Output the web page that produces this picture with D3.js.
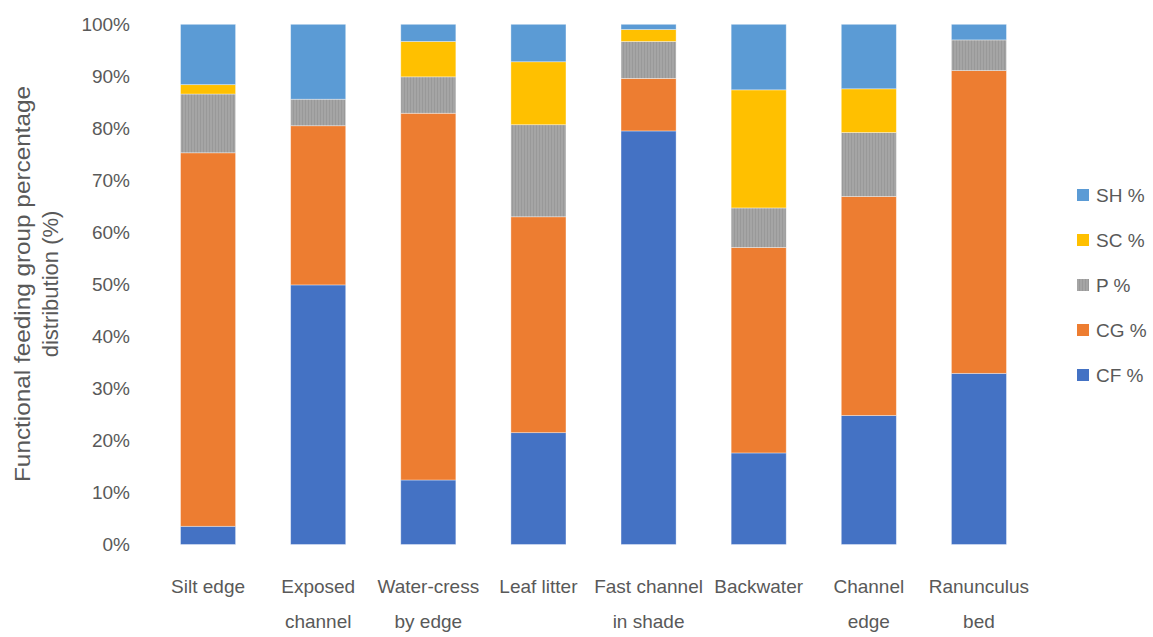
<!DOCTYPE html>
<html>
<head>
<meta charset="utf-8">
<script src="https://cdn.jsdelivr.net/npm/d3@7"></script>
<style>
  html, body { margin: 0; padding: 0; background: #fff; }
  svg { display: block; font-family: "Liberation Sans", Arial, sans-serif; }
</style>
</head>
<body>
<svg id="chart" width="1153" height="637"></svg>
<script>
// Habitat categories along the x axis (label lines)
const categories = [
  ["Silt edge"],
  ["Exposed", "channel"],
  ["Water-cress", "by edge"],
  ["Leaf litter"],
  ["Fast channel", "in shade"],
  ["Backwater"],
  ["Channel", "edge"],
  ["Ranunculus", "bed"]
];

// Functional feeding group shares (%) per habitat
const cf = [3.5, 49.9, 12.4, 21.5, 79.5, 17.6, 24.8, 32.9];
const cg = [71.8, 30.6, 70.5, 41.5, 10.1, 39.5, 42.1, 58.2];
const p  = [11.3, 5.1, 7.0, 17.7, 7.1, 7.6, 12.3, 5.9];
const sc = [1.8, 0.0, 6.8, 12.1, 2.3, 22.7, 8.4, 0.0];
const sh = [11.6, 14.4, 3.3, 7.2, 1.0, 12.6, 12.4, 3.0];

const seriesNames = ["CF %", "CG %", "P %", "SC %", "SH %"];
const yTicks = [0, 10, 20, 30, 40, 50, 60, 70, 80, 90, 100];

const colors = {
  "CF %": "#4472C4",
  "CG %": "#ED7D31",
  "P %": "url(#pHatch)",
  "SC %": "#FFC000",
  "SH %": "#5B9BD5"
};

const rows = categories.map((c, i) => ({
  key: c.join(" "),
  lines: c,
  "CF %": cf[i], "CG %": cg[i], "P %": p[i], "SC %": sc[i], "SH %": sh[i]
}));

const svg = d3.select("#chart");

// Fine texture for the predator segments
const defs = svg.append("defs");
const pat = defs.append("pattern")
  .attr("id", "pHatch").attr("patternUnits", "userSpaceOnUse")
  .attr("width", 3).attr("height", 3);
pat.append("rect").attr("width", 3).attr("height", 3).attr("fill", "#a5a5a5");
pat.append("rect").attr("x", 2).attr("width", 1).attr("height", 3).attr("fill", "#999999");

const x = d3.scaleBand()
  .domain(rows.map(d => d.key))
  .range([153, 1034])
  .paddingInner(0.5)
  .paddingOuter(0.25);

const y = d3.scaleLinear().domain([0, 100]).range([544.5, 24.3]);

const stacked = d3.stack().keys(seriesNames)(rows);

svg.append("g")
  .selectAll("g")
  .data(stacked)
  .join("g")
  .attr("fill", s => colors[s.key])
  .selectAll("rect")
  .data(s => s.map(v => ({ v, key: v.data.key })))
  .join("rect")
  .attr("x", d => x(d.key))
  .attr("width", x.bandwidth())
  .attr("y", d => y(d.v[1]))
  .attr("height", d => Math.max(0, y(d.v[0]) - y(d.v[1])))
  .attr("stroke", "rgba(255,255,255,0.45)")
  .attr("stroke-width", 0.8);

// Y axis: tick labels only
const yAxis = d3.axisLeft(y).tickValues(yTicks).tickFormat(d => d + "%").tickSize(0).tickPadding(0);
const yg = svg.append("g").attr("transform", "translate(130,0)").call(yAxis);
yg.select(".domain").remove();
yg.selectAll("text")
  .attr("fill", "#595959")
  .style("font-size", "19px")
  .style("font-family", "'Liberation Sans', Arial, sans-serif");

// X axis: wrapped category labels
const xAxis = d3.axisBottom(x).tickSize(0).tickFormat("");
const xg = svg.append("g").attr("transform", "translate(0,545)").call(xAxis);
xg.select(".domain").remove();
xg.selectAll(".tick").each(function(k) {
  const r = rows.find(d => d.key === k);
  const t = d3.select(this).append("text")
    .attr("fill", "#595959")
    .attr("text-anchor", "middle")
    .style("font-size", "19px")
    .style("font-family", "'Liberation Sans', Arial, sans-serif");
  r.lines.forEach((ln, i) => {
    t.append("tspan").attr("x", 0).attr("y", 48 + i * 35).text(ln);
  });
});

// Y axis title (two lines)
const title = svg.append("text")
  .attr("transform", "translate(0,284) rotate(-90)")
  .attr("text-anchor", "middle")
  .attr("fill", "#595959")
  .style("font-size", "22px");
title.append("tspan").attr("x", 0).attr("y", 30)
  .attr("textLength", 396).attr("lengthAdjust", "spacingAndGlyphs")
  .text("Functional feeding group percentage");
title.append("tspan").attr("x", 0).attr("y", 58).text("distribution (%)");

// Legend, top entry is the top segment
const legendOrder = seriesNames.slice().reverse();
const lg = svg.append("g").attr("transform", "translate(1077,0)");
legendOrder.forEach((name, i) => {
  const cy = 195 + i * 45;
  lg.append("rect")
    .attr("x", 0).attr("y", cy - 6)
    .attr("width", 12).attr("height", 12)
    .attr("fill", colors[name]);
  lg.append("text")
    .attr("x", 19).attr("y", cy)
    .attr("dy", "0.35em")
    .attr("fill", "#595959")
    .style("font-size", "19px")
    .text(name);
});
</script>
</body>
</html>
